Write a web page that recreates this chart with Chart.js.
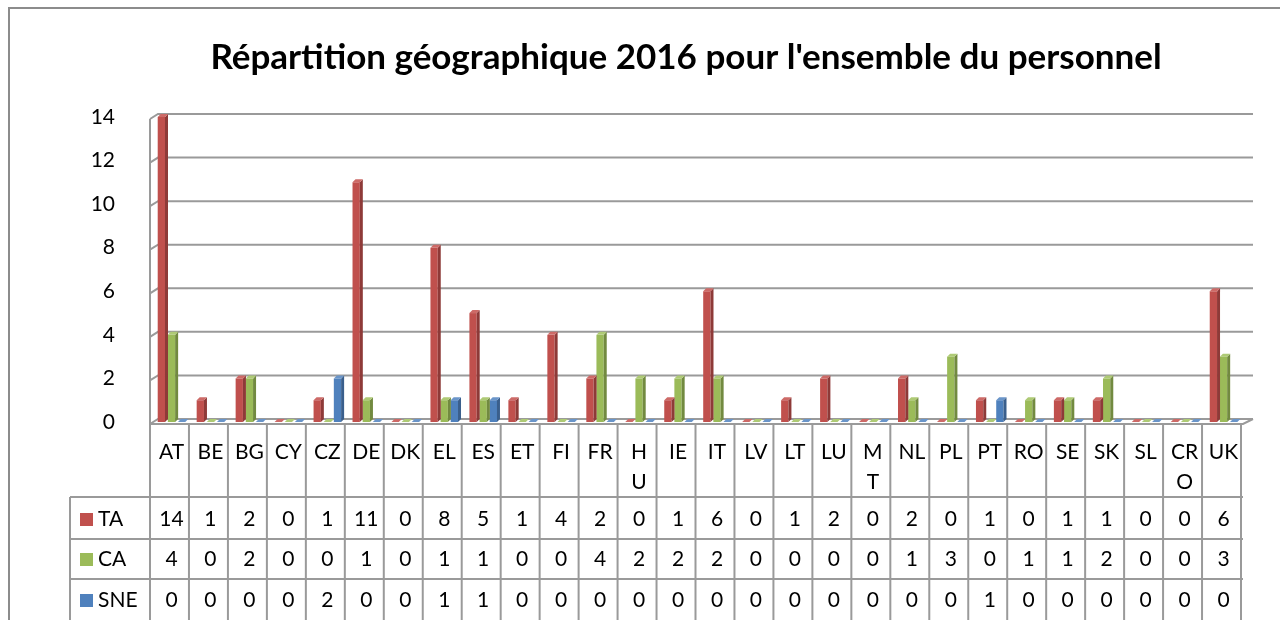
<!DOCTYPE html>
<html>
<head>
<meta charset="utf-8">
<script src="https://cdn.jsdelivr.net/npm/chart.js@4/dist/chart.umd.min.js"></script>
<style>
    html, body { margin: 0; padding: 0; background: #fff; }
    canvas { display: block; }
</style>
</head>
<body>
<canvas id="graficoPersonnel" width="1280" height="620"></canvas>
<script>
// Données du graphique
const titre = "Répartition géographique 2016 pour l'ensemble du personnel";
const pays = ['AT', 'BE', 'BG', 'CY', 'CZ', 'DE', 'DK', 'EL', 'ES', 'ET', 'FI', 'FR', 'HU', 'IE',
    'IT', 'LV', 'LT', 'LU', 'MT', 'NL', 'PL', 'PT', 'RO', 'SE', 'SK', 'SL', 'CRO', 'UK'];
const nomsSeries = ['TA', 'CA', 'SNE'];
const valeursTA = [14, 1, 2, 0, 1, 11, 0, 8, 5, 1, 4, 2, 0, 1, 6, 0, 1, 2, 0, 2, 0, 1, 0, 1, 1, 0, 0, 6];
const valeursCA = [4, 0, 2, 0, 0, 1, 0, 1, 1, 0, 0, 4, 2, 2, 2, 0, 0, 0, 0, 1, 3, 0, 1, 1, 2, 0, 0, 3];
const valeursSNE = [0, 0, 0, 0, 2, 0, 0, 1, 1, 0, 0, 0, 0, 0, 0, 0, 0, 0, 0, 0, 0, 1, 0, 0, 0, 0, 0, 0];
const graduations = [0, 2, 4, 6, 8, 10, 12, 14];

const couleurs = ['#C0504D', '#9BBB59', '#4F81BD'];
const couleursCote = ['#8E3A38', '#728A40', '#3A5F8C'];
const couleursDessus = ['#CD6A67', '#AECA75', '#6A95C9'];
const police = 'Lato, "Open Sans", sans-serif';
const gris = '#9a9a9a';
const prof = 3; // profondeur 3D des barres

const series = [valeursTA, valeursCA, valeursSNE];

// dessine le décor 3D (mur, grille, sol) avant les barres
const pluginExcel = {
    id: 'excel3d',
    beforeDatasetsDraw(chart) {
        const ctx = chart.ctx;
        const a = chart.chartArea;
        const y = chart.scales.y;
        ctx.save();

        // cadre extérieur
        ctx.strokeStyle = '#8c8c8c';
        ctx.lineWidth = 2;
        ctx.beginPath();
        ctx.moveTo(9, 620);
        ctx.lineTo(9, 8);
        ctx.lineTo(1280, 8);
        ctx.stroke();

        // lignes de grille avec la petite diagonale du mur
        ctx.strokeStyle = gris;
        ctx.lineWidth = 2;
        for (let i = 0; i < graduations.length; i++) {
            const py = y.getPixelForValue(graduations[i]);
            ctx.beginPath();
            ctx.moveTo(a.left - 2, py + 2);
            ctx.lineTo(a.left + 6, py - 3);
            ctx.lineTo(a.right + 10, py - 3);
            ctx.stroke();
        }

        // mur gauche et bord avant du sol
        const haut = y.getPixelForValue(graduations[graduations.length - 1]);
        const bas = y.getPixelForValue(0);
        ctx.beginPath();
        ctx.moveTo(a.left - 2, haut + 2);
        ctx.lineTo(a.left - 2, bas + 2);
        ctx.lineTo(a.right, bas + 2);
        ctx.lineTo(a.right + 10, bas - 3);
        ctx.stroke();
        ctx.restore();
    },
    afterDatasetsDraw(chart) {
        const ctx = chart.ctx;
        ctx.save();
        chart.data.datasets.forEach((ds, d) => {
            const meta = chart.getDatasetMeta(d);
            meta.data.forEach((bar) => {
                const g = bar.x - bar.width / 2;
                const dr = bar.x + bar.width / 2;
                // face de côté
                ctx.fillStyle = couleursCote[d];
                ctx.beginPath();
                ctx.moveTo(dr, bar.y);
                ctx.lineTo(dr + prof, bar.y - prof);
                ctx.lineTo(dr + prof, bar.base - prof);
                ctx.lineTo(dr, bar.base);
                ctx.closePath();
                ctx.fill();
                // face du dessus
                ctx.fillStyle = couleursDessus[d];
                ctx.beginPath();
                ctx.moveTo(g, bar.y);
                ctx.lineTo(g + prof, bar.y - prof);
                ctx.lineTo(dr + prof, bar.y - prof);
                ctx.lineTo(dr, bar.y);
                ctx.closePath();
                ctx.fill();
            });
        });
        ctx.restore();
    },
    afterDraw(chart) {
        const ctx = chart.ctx;
        const a = chart.chartArea;
        const x = chart.scales.x;
        const largeur = a.width / pays.length;
        ctx.save();

        // titre
        ctx.fillStyle = '#000';
        ctx.font = 'bold 30px ' + police;
        const taille = 30 * 951 / ctx.measureText(titre).width;
        ctx.font = 'bold ' + taille.toFixed(1) + 'px ' + police;
        ctx.textAlign = 'center';
        ctx.textBaseline = 'middle';
        ctx.fillText(titre, 686, 58);

        // tableau de données
        const hautTable = 424;
        const lignes = [497, 539, 579];
        ctx.strokeStyle = gris;
        ctx.lineWidth = 2;
        ctx.beginPath();
        for (let i = 0; i <= pays.length; i++) {
            const px = a.left - 2 + i * largeur;
            ctx.moveTo(px, hautTable);
            ctx.lineTo(px, 620);
        }
        ctx.moveTo(70, lignes[0]);
        ctx.lineTo(70, 620);
        for (let l = 0; l < lignes.length; l++) {
            ctx.moveTo(70, lignes[l]);
            ctx.lineTo(a.right, lignes[l]);
        }
        ctx.stroke();

        ctx.font = '21px ' + police;
        ctx.fillStyle = '#000';
        ctx.textAlign = 'center';
        for (let i = 0; i < pays.length; i++) {
            const cx = x.getPixelForValue(i);
            const w = ctx.measureText(pays[i]).width;
            if (w > largeur - 8) {
                // retour à la ligne comme dans Excel
                const coupe = pays[i].length - 1;
                ctx.fillText(pays[i].slice(0, Math.max(coupe, 1)), cx, 452);
                ctx.fillText(pays[i].slice(Math.max(coupe, 1)), cx, 482);
            } else {
                ctx.fillText(pays[i], cx, 452);
            }
            for (let s = 0; s < series.length; s++) {
                ctx.fillText(String(series[s][i]), cx, [519, 559, 600][s]);
            }
        }

        // légende dans le tableau
        ctx.textAlign = 'left';
        for (let s = 0; s < nomsSeries.length; s++) {
            const cy = [519, 559, 600][s];
            ctx.fillStyle = couleurs[s];
            ctx.fillRect(80, cy - 6, 13, 13);
            ctx.fillStyle = '#000';
            ctx.fillText(nomsSeries[s], 98, cy);
        }
        ctx.restore();
    }
};

const dados = {
    labels: pays,
    datasets: nomsSeries.map((nom, s) => ({
        label: nom,
        data: series[s],
        backgroundColor: couleurs[s],
        borderWidth: 0,
        categoryPercentage: 0.78,
        barPercentage: 0.72
    }))
};

const config = {
    type: 'bar',
    data: dados,
    options: {
        responsive: false,
        animation: false,
        devicePixelRatio: 1,
        layout: { padding: { left: 0, top: 117, right: 37, bottom: 198 } },
        plugins: {
            legend: { display: false },
            title: { display: false },
            tooltip: { enabled: false }
        },
        scales: {
            x: { display: false },
            y: {
                min: 0,
                max: 14,
                afterFit(scale) { scale.width = 152; },
                afterBuildTicks(scale) { scale.ticks = graduations.map(v => ({ value: v })); },
                grid: { display: false },
                border: { display: false },
                ticks: {
                    padding: 29,
                    color: '#000',
                    font: { family: police, size: 21 }
                }
            }
        }
    },
    plugins: [pluginExcel]
};

const contexto = document.getElementById('graficoPersonnel').getContext('2d');
const grafico = new Chart(contexto, config);
</script>
</body>
</html>
